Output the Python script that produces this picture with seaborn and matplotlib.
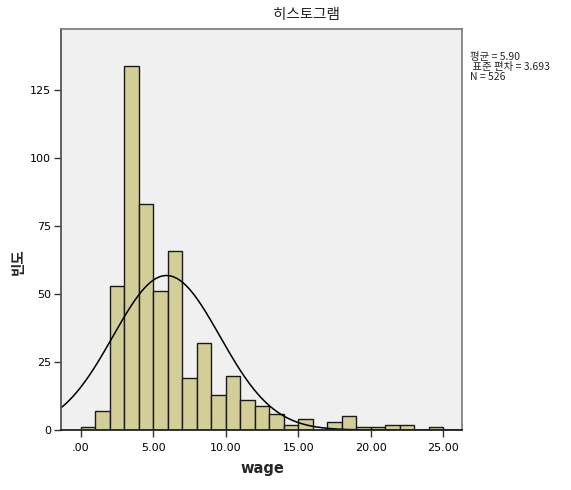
import numpy as np
import pandas as pd
import matplotlib
matplotlib.use("Agg")
import matplotlib.pyplot as plt
import seaborn as sns

# Data
bin_edges = list(range(0, 26))
counts = [1, 7, 53, 134, 83, 51, 66, 19, 32, 13, 20, 11, 9, 6, 2, 4, 0, 3, 5, 1, 1, 2, 2, 0, 1]
mean_val = 5.90
sd_val = 3.693
n_val = 526
x_ticks = [0, 5, 10, 15, 20, 25]
x_tick_labels = [".00", "5.00", "10.00", "15.00", "20.00", "25.00"]
y_ticks = [0, 25, 50, 75, 100, 125]

sns.set_style("white")
plt.rcParams['font.family'] = ['Noto Sans CJK KR', 'DejaVu Sans']

fig = plt.figure(figsize=(5.71, 4.90), dpi=100)
ax = fig.add_axes([61/571, 1 - 430/490, (462-61)/571, (430-29)/490])
ax.set_facecolor("#F0F0F0")

centers = [(bin_edges[i] + bin_edges[i+1]) / 2 for i in range(len(counts))]
df = pd.DataFrame({"wage": centers, "count": counts})
sns.histplot(data=df, x="wage", weights="count", bins=bin_edges, ax=ax,
             color="#D3CE97", alpha=1, edgecolor="#1a1a1a", linewidth=1.0)

xlim = (-1.38, 26.3)
xs = np.linspace(xlim[0], xlim[1], 400)
ys = n_val * 1.0 / (sd_val * np.sqrt(2 * np.pi)) * np.exp(-0.5 * ((xs - mean_val) / sd_val) ** 2)
sns.lineplot(x=xs, y=ys, ax=ax, color="black", linewidth=1.1)

ax.set_xlim(*xlim)
ax.set_ylim(0, 147.5)
ax.set_xticks(x_ticks)
ax.set_xticklabels(x_tick_labels, fontsize=8, family=['DejaVu Sans'])
ax.set_yticks(y_ticks)
ax.set_yticklabels([str(v) for v in y_ticks], fontsize=8, family=['DejaVu Sans'])
ax.tick_params(axis="both", direction="out", length=5, width=1, color="#333333",
               pad=2, labelcolor="black", bottom=True, left=True)
ax.tick_params(axis="x", pad=4)

for s in ["top", "right"]:
    ax.spines[s].set_color("#777777")
    ax.spines[s].set_linewidth(1.2)
    ax.spines[s].set_visible(True)
ax.spines["left"].set_color("#555555")
ax.spines["left"].set_linewidth(1.3)
ax.spines["bottom"].set_color("#222222")
ax.spines["bottom"].set_linewidth(1.3)

ax.set_xlabel("")
ax.set_ylabel("")
fig.text(262/571, 1 - 468/490, "wage", ha="center", va="center",
         fontsize=10.5, fontweight="bold", family=['DejaVu Sans'])
fig.text(18/571, 1 - 262/490, "빈도", ha="center", va="center", rotation=90,
         fontsize=10.5, fontweight="bold")

fig.text(306/571, 1 - 15/490, "히스토그램", ha="center", va="center", fontsize=10.5)
fig.text(470/571, 1 - 67/490, "평균 = 5.90\n 표준 편차 = 3.693\nN = 526",
         ha="left", va="center", fontsize=7.5, linespacing=1.0)

fig.savefig("out.png", dpi=100)
